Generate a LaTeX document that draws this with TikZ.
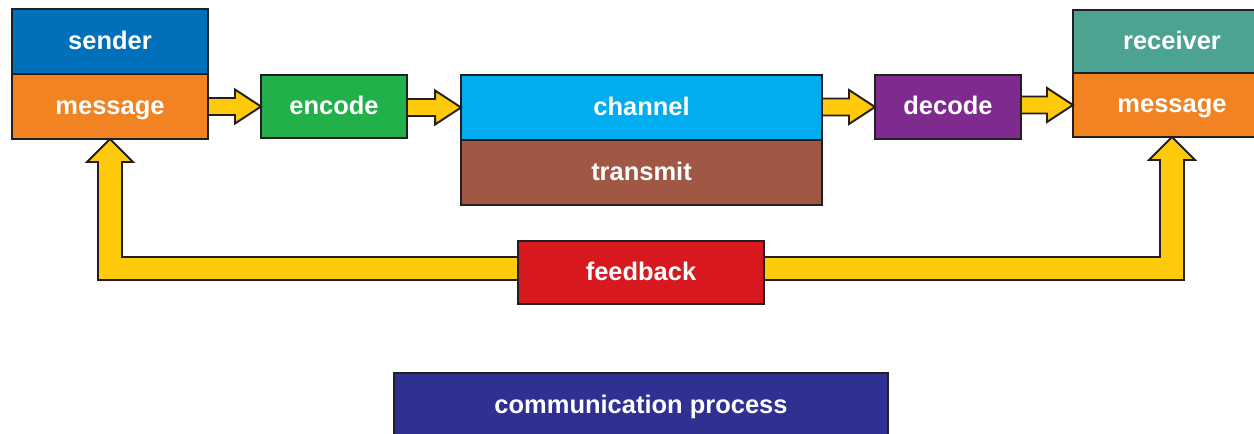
\documentclass[tikz,border=0pt]{standalone}
\usepackage{fontspec}
\setmainfont{Liberation Sans}
\usetikzlibrary{positioning,calc}

\definecolor{boxline}{RGB}{35,31,32}
\definecolor{senderblue}{RGB}{0,112,186}
\definecolor{msgorange}{RGB}{242,131,34}
\definecolor{encgreen}{RGB}{34,176,75}
\definecolor{chancyan}{RGB}{0,174,239}
\definecolor{transbrown}{RGB}{160,87,68}
\definecolor{decpurple}{RGB}{127,42,143}
\definecolor{recvteal}{RGB}{77,163,145}
\definecolor{fbred}{RGB}{215,25,31}
\definecolor{procnavy}{RGB}{46,49,145}
\definecolor{arrowyellow}{RGB}{255,201,12}

% fat yellow arrow from one box to the next
\newcommand{\hflow}[2]{%
  \draw[fatarrow] ($(#1.east |- #2.west)+(0,-8.5)$) -- ($(#2.west)+(-26,-8.5)$)
    -- ++(0,-8.5) -- (#2.west) -- ++(-26,17) -- ++(0,-8.5)
    -- ($(#1.east |- #2.west)+(0,8.5)$) -- cycle;}

\begin{document}
\begin{tikzpicture}[x=0.02cm,y=-0.02cm,
    box/.style={draw=boxline,line width=1.4pt,text=white,inner sep=0pt,outer sep=0pt,
      font=\bfseries\fontsize{14.5}{17}\selectfont,text height=9pt,text depth=0pt},
    fatarrow/.style={fill=arrowyellow,draw=boxline,line width=1.1pt,line join=miter}]
    \useasboundingbox (0,0) rectangle (1254,433);

    % sender side
    \node[box,fill=senderblue,minimum width=3.92cm,minimum height=1.3cm] (sender) at (110,41.5) {sender};
    \node[box,fill=msgorange,minimum width=3.92cm,minimum height=1.3cm,below=0pt of sender] (msgL) {message};

    \node[box,fill=encgreen,minimum width=2.92cm,minimum height=1.26cm] (encode) at (334,106.5) {encode};

    % channel
    \node[box,fill=chancyan,minimum width=7.22cm,minimum height=1.3cm] (channel) at (641.5,107.5) {channel};
    \node[box,fill=transbrown,minimum width=7.22cm,minimum height=1.3cm,below=0pt of channel] (transmit) {transmit};

    \node[box,fill=decpurple,minimum width=2.92cm,minimum height=1.28cm] (decode) at (948,107) {decode};

    % receiver side
    \node[box,fill=recvteal,minimum width=3.96cm,minimum height=1.26cm] (receiver) at (1172,41.5) {receiver};
    \node[box,fill=msgorange,minimum width=3.96cm,minimum height=1.28cm,below=0pt of receiver] (msgR) {message};

    \node[box,fill=fbred,minimum width=4.92cm,minimum height=1.26cm] (fb) at (641,272.5) {feedback};
    \node[box,fill=procnavy,minimum width=9.88cm,minimum height=1.32cm] (proc) at (641,406) {communication process};

    \hflow{msgL}{encode}
    \hflow{encode}{channel}
    \hflow{channel}{decode}
    \hflow{decode}{msgR}

    % feedback loops back to both messages
    \draw[fatarrow] ($(fb.west)+(0,-15.5)$) -| ($(msgL.south)+(12,23)$) -- ++(11,0)
        -- (msgL.south) -- ++(-23,23) -- ++(11,0) |- ($(fb.west)+(0,7.5)$) -- cycle;
    \draw[fatarrow] ($(fb.east)+(0,-15.5)$) -| ($(msgR.south)+(-12,23)$) -- ++(-11,0)
        -- (msgR.south) -- ++(23,23) -- ++(-11,0) |- ($(fb.east)+(0,7.5)$) -- cycle;
\end{tikzpicture}
\end{document}
